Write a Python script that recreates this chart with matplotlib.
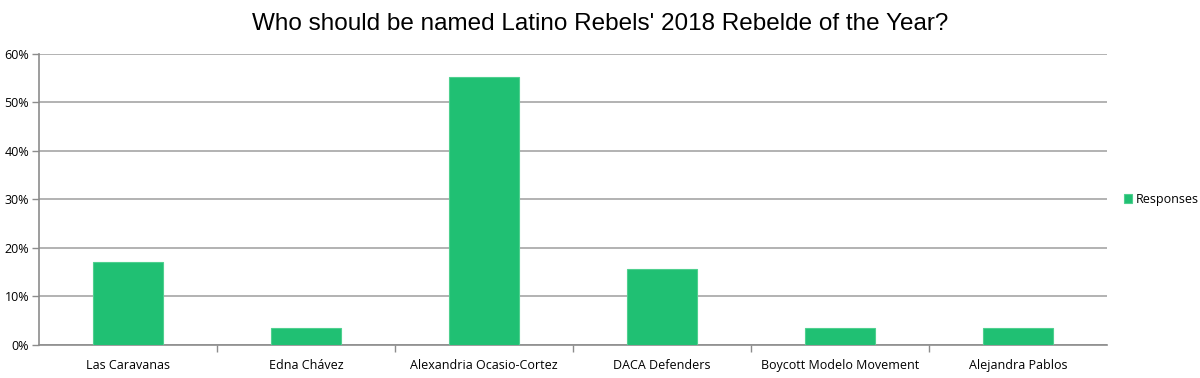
import matplotlib.pyplot as plt
from matplotlib.ticker import PercentFormatter, FixedLocator

categories = ["Las Caravanas", "Edna Chávez", "Alexandria Ocasio-Cortez",
              "DACA Defenders", "Boycott Modelo Movement", "Alejandra Pablos"]
responses = [17.1, 3.6, 55.3, 15.6, 3.6, 3.6]

fig = plt.figure(figsize=(12, 3.78), dpi=100)
ax = fig.add_axes([0.0325, 0.0873, 0.89, 0.77])

x = range(len(categories))
ax.bar(x, responses, width=0.39, color="#20c073", edgecolor="#4fd08f",
       linewidth=0.8, label="Responses", zorder=3)

ax.set_xlim(-0.5, len(categories) - 0.5)
ax.set_ylim(0, 60)
ax.set_yticks(range(0, 61, 10))
ax.yaxis.set_major_formatter(PercentFormatter(decimals=0))
ax.grid(axis="y", color="#a6a6a6", linewidth=1.2, zorder=0)

ax.set_xticks(list(x))
ax.set_xticklabels(categories, fontsize=9, family="Open Sans")
ax.tick_params(axis="x", which="major", length=0, pad=10)
ax.xaxis.set_minor_locator(FixedLocator([i + 0.5 for i in range(len(categories) - 1)]))
ax.tick_params(axis="x", which="minor", length=5, color="#8c8c8c", width=1)
ax.tick_params(axis="y", length=5, color="#8c8c8c", width=1, labelsize=9, pad=2)
for lab in ax.get_yticklabels():
    lab.set_family("Open Sans")

for side in ["top", "right"]:
    ax.spines[side].set_visible(False)
for side in ["left", "bottom"]:
    ax.spines[side].set_color("#8c8c8c")
    ax.spines[side].set_linewidth(1.2)

fig.suptitle("Who should be named Latino Rebels' 2018 Rebelde of the Year?",
             y=0.965, fontsize=17.5, family="Liberation Sans")

ax.legend(loc="center left", bbox_to_anchor=(1.005, 0.5), frameon=False,
          prop={"family": "Open Sans", "size": 9}, handlelength=0.7,
          handleheight=0.7, handletextpad=0.3)

fig.savefig("out.png", dpi=100)
